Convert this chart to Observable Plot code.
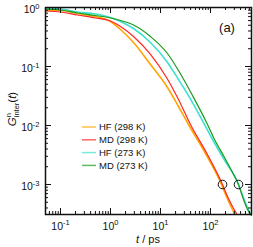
<!DOCTYPE html>
<html><head><meta charset="utf-8">
<script src="https://cdn.jsdelivr.net/npm/d3@7"></script>
<script src="https://cdn.jsdelivr.net/npm/@observablehq/plot@0.6"></script>
<style>
body{margin:0;background:#fff;}
#chart svg{display:block;}
</style></head><body><div id="chart"></div>
<script>
// ---- data ----
const seriesNames = ["HF (298 K)", "MD (298 K)", "HF (273 K)", "MD (273 K)"];
const seriesColors = ["#ffa500", "#ff2424", "#40e0d0", "#1c9a1c"];

const hf298T = [0.0501, 0.1, 0.219, 0.501, 1, 1.585, 2.884, 6.31, 13.8, 22.9, 36.3, 79.4, 166, 208, 251, 302];
const hf298G = [0.907, 0.890, 0.791, 0.704, 0.579, 0.424, 0.255, 0.108, 0.0441, 0.0210, 0.0104, 0.00335, 0.00100, 0.000626, 0.000441, 0.000322];

const md298T = [0.0501, 0.1, 0.219, 0.501, 1, 1.585, 2.884, 6.31, 13.2, 22.9, 39.8, 91.2, 174, 219, 275, 331];
const md298G = [0.872, 0.839, 0.746, 0.664, 0.590, 0.476, 0.322, 0.160, 0.0651, 0.0276, 0.0104, 0.00298, 0.00100, 0.000626, 0.000424, 0.000322];

const hf273T = [0.0501, 0.1, 0.219, 0.501, 1, 1.585, 2.884, 6.31, 13.8, 22.9, 43.7, 72.4, 110, 182, 363, 437, 550, 631];
const hf273G = [0.962, 0.943, 0.839, 0.776, 0.677, 0.579, 0.441, 0.255, 0.117, 0.0602, 0.0245, 0.0112, 0.00579, 0.00276, 0.00100, 0.000651, 0.000407, 0.000322];

const md273T = [0.0501, 0.1, 0.219, 0.501, 1, 1.585, 2.884, 6.31, 13.8, 22.9, 43.7, 87.1, 115, 191, 263, 363, 437, 550, 661];
const md273G = [0.943, 0.907, 0.807, 0.732, 0.664, 0.602, 0.505, 0.322, 0.166, 0.0855, 0.0322, 0.0104, 0.00626, 0.00287, 0.00173, 0.00100, 0.000626, 0.000377, 0.000298];

const markerT = [174, 363];
const markerG = [0.001, 0.001];

const xMajor = [0.1, 1, 10, 100];
const yMajor = [1, 0.1, 0.01, 0.001];
const minorSteps = [2, 3, 4, 5, 6, 7, 8, 9];
const xMinor = [0.01, 0.1, 1, 10, 100].flatMap(d => minorSteps.map(k => k * d)).filter(v => v > 0.0501 && v < 661);
const yMinor = [0.0001, 0.001, 0.01, 0.1].flatMap(d => minorSteps.map(k => k * d)).filter(v => v > 3.1e-4 && v < 1);

// ---- build ----
const seriesT = [hf298T, md298T, hf273T, md273T];
const seriesG = [hf298G, md298G, hf273G, md273G];
const widths = [1.6, 1.2, 1.6, 1.2];
const rows = [];
seriesNames.forEach((name, i) => seriesT[i].forEach((t, j) => rows.push({series: name, t, g: seriesG[i][j]})));
const markers = markerT.map((t, i) => ({t, g: markerG[i]}));

const W = 253, H = 247, mL = 45, mR = 2, mT = 7, mB = 33;
const fw = W - mL - mR, fh = H - mT - mB;
const maj = 6, mnr = 3;
const font = "'Liberation Sans', Arial, Helvetica, sans-serif";

const plot = Plot.plot({
  width: W, height: H,
  marginLeft: mL, marginRight: mR, marginTop: mT, marginBottom: mB,
  style: {fontFamily: font, fontSize: "10.5px", background: "white", color: "#111"},
  x: {type: "log", domain: [0.0501, 661]},
  y: {type: "log", domain: [3.1e-4, 1]},
  color: {domain: seriesNames, range: seriesColors},
  marks: [
    ...seriesNames.map((name, i) => Plot.line(rows.filter(r => r.series === name),
      {x: "t", y: "g", stroke: "series", strokeWidth: widths[i], curve: "monotone-x"})),
    Plot.dot(markers, {x: "t", y: "g", r: 4.3, stroke: "#111", strokeWidth: 1, fill: "none"}),
    // inward ticks on all four sides
    Plot.tickX(xMajor, {x: d => d, insetTop: fh - maj, stroke: "#111"}),
    Plot.tickX(xMinor, {x: d => d, insetTop: fh - mnr, stroke: "#111"}),
    Plot.tickX(xMajor, {x: d => d, insetBottom: fh - maj, stroke: "#111"}),
    Plot.tickX(xMinor, {x: d => d, insetBottom: fh - mnr, stroke: "#111"}),
    Plot.tickY(yMajor, {y: d => d, insetRight: fw - maj, stroke: "#111"}),
    Plot.tickY(yMinor, {y: d => d, insetRight: fw - mnr, stroke: "#111"}),
    Plot.tickY(yMajor, {y: d => d, insetLeft: fw - maj, stroke: "#111"}),
    Plot.tickY(yMinor, {y: d => d, insetLeft: fw - mnr, stroke: "#111"}),
    Plot.axisX(xMajor, {anchor: "bottom", tickSize: 0, tickPadding: 8, label: null,
      tickFormat: d => "10^" + Math.round(Math.log10(d))}),
    Plot.axisY(yMajor, {anchor: "left", tickSize: 0, tickPadding: 6, label: null, dy: 2.5,
      tickFormat: d => "10^" + Math.round(Math.log10(d))}),
    Plot.frame({stroke: "#111", strokeWidth: 1.5})
  ]
});

document.getElementById("chart").appendChild(plot);
const NS = "http://www.w3.org/2000/svg";

// superscript exponents on tick labels
plot.querySelectorAll("text").forEach(t => {
  const m = t.textContent.match(/^10\^(-?\d+)$/);
  if (!m) return;
  t.textContent = "10";
  const s = document.createElementNS(NS, "tspan");
  s.setAttribute("dy", "-4.5");
  s.setAttribute("font-size", "7.5px");
  s.textContent = m[1];
  t.appendChild(s);
});

const svg = d3.select(plot);
const ink = "#111";

// legend
const leg = svg.append("g").attr("font-family", font).attr("font-size", "9.5px")
  .attr("fill", ink).attr("text-anchor", "start");
seriesNames.forEach((n, i) => {
  const y = 127 + i * 12.8;
  leg.append("line").attr("x1", 82).attr("x2", 96).attr("y1", y).attr("y2", y)
    .attr("stroke", seriesColors[i]).attr("stroke-width", 1.5).attr("stroke-opacity", 0.7);
  leg.append("text").attr("x", 99).attr("y", y).attr("dy", "0.35em")
    .attr("text-anchor", "start").text(n);
});

// panel tag
svg.append("text").attr("x", 227).attr("y", 32).attr("text-anchor", "middle")
  .attr("font-family", font).attr("font-size", "13px").attr("fill", ink).text("(a)");

// x label
const xl = svg.append("text").attr("x", 148).attr("y", 243).attr("text-anchor", "middle")
  .attr("font-family", font).attr("font-size", "11px").attr("fill", ink);
xl.append("tspan").attr("font-style", "italic").text("t");
xl.append("tspan").text(" / ps");

// y label
const yl = svg.append("text").attr("transform", "translate(16,109) rotate(-90)")
  .attr("text-anchor", "middle").attr("font-family", font).attr("font-size", "11.5px").attr("fill", ink);
yl.append("tspan").attr("font-style", "italic").text("G");
yl.append("tspan").attr("font-size", "7.5px").attr("dy", -5).text("n");
yl.append("tspan").attr("font-size", "7.5px").attr("dx", -4.2).attr("dy", 8).text("inter");
yl.append("tspan").attr("dy", -3).text("(");
yl.append("tspan").attr("font-style", "italic").text("t");
yl.append("tspan").text(")");
</script>
</body></html>
